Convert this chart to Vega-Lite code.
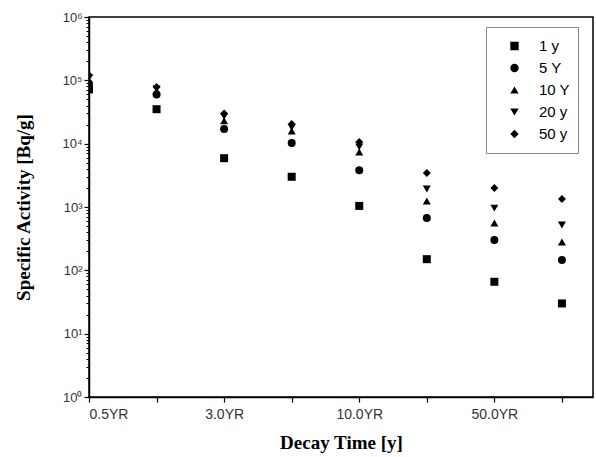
{
  "$schema": "https://vega.github.io/schema/vega-lite/v6.json",
  "width": 504,
  "height": 380,
  "autosize": "none",
  "padding": {"left": 89, "top": 17, "right": 3, "bottom": 60},
  "config": {
    "view": {"stroke": "black", "strokeWidth": 1.5},
    "axis": {"domainColor": "black", "domainWidth": 1.5, "tickColor": "black", "grid": false,
             "labelFont": "Liberation Sans", "labelColor": "#333", "titleFont": "Liberation Serif",
             "titleFontWeight": "bold", "titleFontSize": 19, "titleColor": "black"}
  },
  "data": {"values": [
    {"decay": "0.5YR", "pos": 0, "series": "1 y", "activity": 72000},
    {"decay": "0.5YR", "pos": 0, "series": "5 Y", "activity": 88000},
    {"decay": "0.5YR", "pos": 0, "series": "10 Y", "activity": 100000},
    {"decay": "0.5YR", "pos": 0, "series": "20 y", "activity": 110000},
    {"decay": "0.5YR", "pos": 0, "series": "50 y", "activity": 120000},
    {"decay": "1YR", "pos": 1, "series": "1 y", "activity": 35000},
    {"decay": "1YR", "pos": 1, "series": "5 Y", "activity": 60000},
    {"decay": "1YR", "pos": 1, "series": "10 Y", "activity": 68000},
    {"decay": "1YR", "pos": 1, "series": "20 y", "activity": 73000},
    {"decay": "1YR", "pos": 1, "series": "50 y", "activity": 78500},
    {"decay": "3.0YR", "pos": 2, "series": "1 y", "activity": 5900},
    {"decay": "3.0YR", "pos": 2, "series": "5 Y", "activity": 17000},
    {"decay": "3.0YR", "pos": 2, "series": "10 Y", "activity": 23000},
    {"decay": "3.0YR", "pos": 2, "series": "20 y", "activity": 27000},
    {"decay": "3.0YR", "pos": 2, "series": "50 y", "activity": 30000},
    {"decay": "5YR", "pos": 3, "series": "1 y", "activity": 3000},
    {"decay": "5YR", "pos": 3, "series": "5 Y", "activity": 10200},
    {"decay": "5YR", "pos": 3, "series": "10 Y", "activity": 15800},
    {"decay": "5YR", "pos": 3, "series": "20 y", "activity": 18000},
    {"decay": "5YR", "pos": 3, "series": "50 y", "activity": 20400},
    {"decay": "10.0YR", "pos": 4, "series": "1 y", "activity": 1040},
    {"decay": "10.0YR", "pos": 4, "series": "5 Y", "activity": 3800},
    {"decay": "10.0YR", "pos": 4, "series": "10 Y", "activity": 7400},
    {"decay": "10.0YR", "pos": 4, "series": "20 y", "activity": 8900},
    {"decay": "10.0YR", "pos": 4, "series": "50 y", "activity": 10600},
    {"decay": "20YR", "pos": 5, "series": "1 y", "activity": 150},
    {"decay": "20YR", "pos": 5, "series": "5 Y", "activity": 670},
    {"decay": "20YR", "pos": 5, "series": "10 Y", "activity": 1240},
    {"decay": "20YR", "pos": 5, "series": "20 y", "activity": 1920},
    {"decay": "20YR", "pos": 5, "series": "50 y", "activity": 3450},
    {"decay": "50.0YR", "pos": 6, "series": "1 y", "activity": 66},
    {"decay": "50.0YR", "pos": 6, "series": "5 Y", "activity": 300},
    {"decay": "50.0YR", "pos": 6, "series": "10 Y", "activity": 560},
    {"decay": "50.0YR", "pos": 6, "series": "20 y", "activity": 960},
    {"decay": "50.0YR", "pos": 6, "series": "50 y", "activity": 2000},
    {"decay": "100YR", "pos": 7, "series": "1 y", "activity": 30},
    {"decay": "100YR", "pos": 7, "series": "5 Y", "activity": 145},
    {"decay": "100YR", "pos": 7, "series": "10 Y", "activity": 280},
    {"decay": "100YR", "pos": 7, "series": "20 y", "activity": 520},
    {"decay": "100YR", "pos": 7, "series": "50 y", "activity": 1340}
  ]},
  "encoding": {
    "x": {"field": "pos", "type": "quantitative",
          "scale": {"domain": [0, 7.46], "nice": false, "zero": false},
          "axis": {"title": "Decay Time [y]", "values": [0,1,2,3,4,5,6,7], "tickSize": 5, "tickWidth": 1.2,
                   "labelFontSize": 14, "labelPadding": 5, "titlePadding": 12,
                   "labelExpr": "datum.value == 0 ? '0.5YR' : datum.value == 2 ? '3.0YR' : datum.value == 4 ? '10.0YR' : datum.value == 6 ? '50.0YR' : ''"}}
  },
  "layer": [
    {
      "mark": {"type": "point", "opacity": 0},
      "encoding": {
        "y": {"field": "activity", "type": "quantitative",
              "scale": {"type": "log", "domain": [1, 1000000], "nice": false},
              "axis": {"title": null, "orient": "left", "labels": false, "domain": false,
                       "values": [2,3,4,5,6,7,8,9,20,30,40,50,60,70,80,90,200,300,400,500,600,700,800,900,2000,3000,4000,5000,6000,7000,8000,9000,20000,30000,40000,50000,60000,70000,80000,90000,200000,300000,400000,500000,600000,700000,800000,900000],
                       "tickSize": 3, "tickWidth": 1}}
      }
    },
    {
      "mark": {"type": "point", "filled": true, "size": 64, "opacity": 1, "clip": true},
      "encoding": {
        "y": {"field": "activity", "type": "quantitative",
              "scale": {"type": "log", "domain": [1, 1000000], "nice": false},
              "axis": {"title": "Specific Activity [Bq/g]", "orient": "left",
                       "values": [1,10,100,1000,10000,100000,1000000],
                       "tickSize": 5, "tickWidth": 1.2, "labelFontSize": 13, "labelPadding": 2, "titlePadding": 28,
                       "labelExpr": "'10' + ['⁰','¹','²','³','⁴','⁵','⁶'][round(log(datum.value)/LN10)]"}},
        "shape": {"field": "series", "type": "nominal",
                  "scale": {"domain": ["1 y", "5 Y", "10 Y", "20 y", "50 y"],
                            "range": ["square", "circle", "triangle-up", "triangle-down", "diamond"]},
                  "legend": {"title": null, "orient": "none", "legendX": 397, "legendY": 10,
                             "padding": 8, "symbolOffset": 13, "labelOffset": 17, "labelFontSize": 15,
                             "labelAlign": "left", "clipHeight": 22, "rowPadding": 0,
                             "labelFont": "Liberation Sans", "labelColor": "black", "symbolSize": 70,
                             "symbolFillColor": "black", "symbolStrokeColor": "black",
                             "strokeColor": "#888", "fillColor": "white"}},
        "color": {"value": "black"}
      }
    }
  ],
  "resolve": {"axis": {"y": "independent"}}
}
